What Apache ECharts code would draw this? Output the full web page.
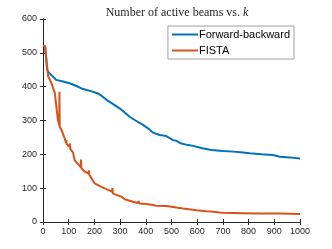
<!DOCTYPE html>
<html>
<head>
<meta charset="utf-8">
<script src="https://cdn.jsdelivr.net/npm/echarts@6/dist/echarts.min.js"></script>
<style>html,body{margin:0;padding:0;background:#fff}#c{width:332px;height:249px}</style>
</head>
<body>
<div id="c"></div>
<script>
var fbIter = [0,8,13,16,20,26,35,52,78,104,130,156,190,214,230,247,270,298,320,337,360,389,410,428,454,480,506,519,538,560,584,620,655,700,739,770,804,850,895,921,960,1000];
var fbVals = [520,520,520,450,444,440,432,420,415,410,402,393,386,380,372,361,350,336,322,311,300,287,276,264,257,254,242,240,232,228,225,218,213,210,208,206,203,200,198,193,191,188];
var fistaIter = [0,8,13,16,20,26,33,46,52,58,63,64,65,66,72,84,90,91,92,101,104,105,106,117,123,147,148,149,150,160,175,178,179,180,201,227,253,268,270,272,274,286,305,318,350,370,372,374,376,402,428,441,480,500,545,597,636,654,661,687,700,778,850,921,1000];
var fistaVals = [520,520,520,460,430,422,410,381,341,302,287,385,282,282,272,248,234,242,231,223,220,232,216,205,183,162,185,160,159,150,144,144,152,140,114,104,95,90,100,84,83,80,75,67,60,56,62,55,55,53,50,48,47,45,40,35,32,31,29,28,27,26,25,25,24];
var xTicks = [0,100,200,300,400,500,600,700,800,900,1000];
var yTicks = [0,100,200,300,400,500,600];

function pairs(xs, ys){ return xs.map(function(x,i){ return [x, ys[i]]; }); }

var axisCol = '#262626';
var labelStyle = {color:'#262626', fontSize:9, fontFamily:'Liberation Sans, Arial, sans-serif', formatter:function(v){ return String(v); }};
var chart = echarts.init(document.getElementById('c'), null, {renderer:'canvas'});
chart.setOption({
  animation:false,
  backgroundColor:'#fff',
  title:{
    text:'Number of active beams vs. {i|k}',
    left:172, top:2, textAlign:'center',
    textStyle:{fontFamily:'Liberation Serif, DejaVu Serif, serif', fontSize:12, fontWeight:'normal', color:'#262626',
      rich:{i:{fontStyle:'italic', fontFamily:'Liberation Serif, DejaVu Serif, serif', fontSize:12, color:'#262626'}}}
  },
  legend:{
    data:['Forward-backward','FISTA'],
    right:38, top:26, orient:'vertical',
    itemWidth:26, itemHeight:2, itemGap:5,
    padding:[3,4,3,4],
    borderColor:'#a0a0a0', borderWidth:1, backgroundColor:'#fff',
    icon:'rect',
    textStyle:{fontFamily:'Liberation Sans, Arial, sans-serif', fontSize:11, color:'#000', padding:[0,0,0,-4]}
  },
  grid:{left:43, right:32, top:19, bottom:27},
  xAxis:[{
    type:'value', min:0, max:1000, interval:100,
    axisLine:{show:true, lineStyle:{color:axisCol, width:1}},
    axisTick:{show:true, inside:true, length:3, lineStyle:{color:axisCol}},
    axisLabel:Object.assign({margin:5}, labelStyle),
    splitLine:{show:false}
  },{
    type:'value', position:'top', min:0, max:1000, interval:100,
    axisLine:{show:true, lineStyle:{color:axisCol, width:1}},
    axisTick:{show:true, inside:true, length:3, lineStyle:{color:axisCol}},
    axisLabel:{show:false}, splitLine:{show:false}
  }],
  yAxis:[{
    type:'value', min:0, max:600, interval:100,
    axisLine:{show:true, lineStyle:{color:axisCol, width:1}},
    axisTick:{show:true, inside:true, length:3, lineStyle:{color:axisCol}},
    axisLabel:Object.assign({margin:6}, labelStyle),
    splitLine:{show:false}
  },{
    type:'value', position:'right', min:0, max:600, interval:100,
    axisLine:{show:true, lineStyle:{color:axisCol, width:1}},
    axisTick:{show:true, inside:true, length:3, lineStyle:{color:axisCol}},
    axisLabel:{show:false}, splitLine:{show:false}
  }],
  series:[{
    name:'Forward-backward', type:'line', showSymbol:false, symbol:'none',
    data:pairs(fbIter, fbVals),
    lineStyle:{color:'#0072BD', width:2}, itemStyle:{color:'#0072BD'}
  },{
    name:'FISTA', type:'line', showSymbol:false, symbol:'none',
    data:pairs(fistaIter, fistaVals),
    lineStyle:{color:'#D95319', width:2}, itemStyle:{color:'#D95319'}
  }]
});
</script>
</body>
</html>
